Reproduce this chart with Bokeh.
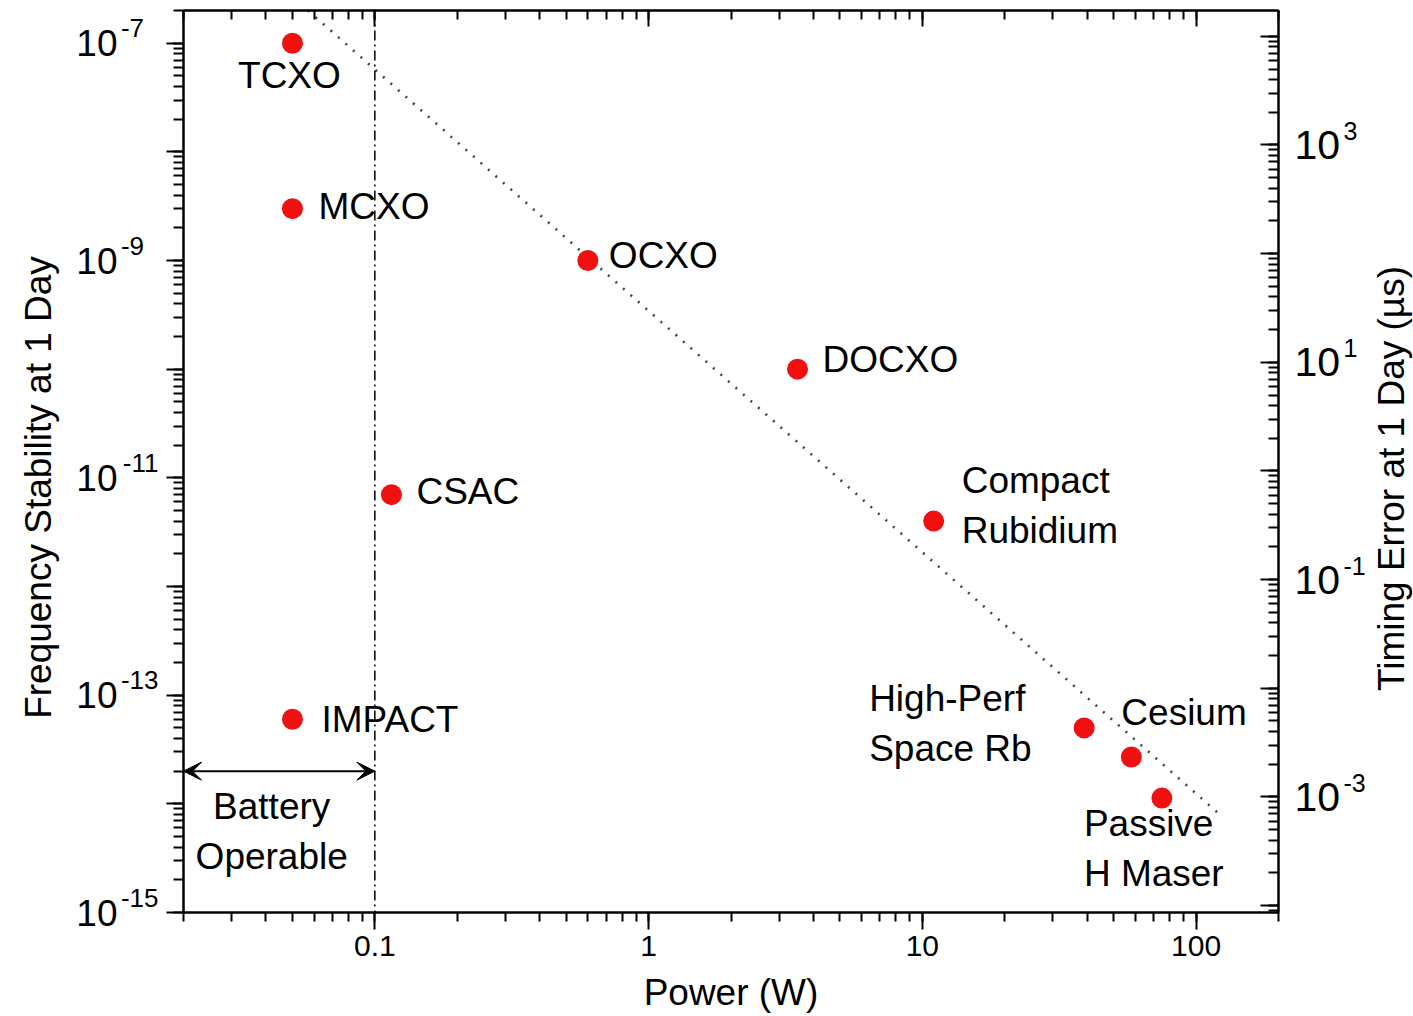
import math
from bokeh.plotting import figure
from bokeh.layouts import row
from bokeh.models import (Range1d, LogScale, LogAxis, FixedTicker, CustomJSTickFormatter,
                          Span, Arrow, VeeHead, ColumnDataSource)
from bokeh.core.properties import value
from bokeh.embed import file_html
from bokeh.resources import INLINE

# ---------------- data ----------------
names = ["TCXO", "MCXO", "OCXO", "DOCXO", "CSAC", "Compact\nRubidium", "IMPACT",
         "High-Perf\nSpace Rb", "Cesium", "Passive\nH Maser"]
power_w = [0.05, 0.05, 0.6, 3.5, 0.115, 11, 0.05, 39, 58, 75]
stability = [1e-7, 3e-9, 1e-9, 1e-10, 7e-12, 4e-12, 6e-14, 5e-14, 2.7e-14, 1.13e-14]

trend_x = [0.057, 124]
trend_y = [2e-7, 7.7e-15]

battery_limit_w = 0.1
battery_arrow_y = 2e-14
battery_note = "Battery\nOperable"
battery_note_x = [0.042]
battery_note_y = [5.6e-15]

x_ticks = [0.1, 1, 10, 100]
x_tick_labels = ["0.1", "1", "10", "100"]
y_ticks = [1e-15, 1e-14, 1e-13, 1e-12, 1e-11, 1e-10, 1e-9, 1e-8, 1e-7]
y_label_ticks = [1e-15, 1e-13, 1e-11, 1e-9, 1e-7]
y_tick_exps = ["-15", "-13", "-11", "-9\u2007", "-7\u2007"]
t_ticks = [1e-4, 1e-3, 1e-2, 1e-1, 1, 10, 100, 1e3, 1e4]
t_label_ticks = [1e-3, 1e-1, 10, 1e3]
t_tick_exps = ["-3", "-1", "1", "3"]
seconds_per_day_us = 86400e6  # 1 day in microseconds

x_title = "Power (W)"
y_title = "Frequency Stability at 1 Day"
t_title = "Timing Error at 1 Day (µs)"

# label placement (screen px offsets from the point)
lab_dx = [-3, 26, 21, 25, 25, 28, 29, -215, -10, -78]
lab_dy = [32, -2, -5, -10, -3, -16, 0, -4, -44, 50]
lab_align = ["center"] + ["left"] * 9

FONT = "Liberation Sans"

x_lo, x_hi = 0.02, 200
y_lo, y_hi = 1e-15, 2e-7

# ---------------- layout constants ----------------
TOTAL_W, TOTAL_H = 1413, 1016
TOP, BOTTOM = 10, 104
FRAME_H = TOTAL_H - TOP - BOTTOM
LEFT_W, RIGHT_W = 70, 45
MAIN_BL, MAIN_BR = 113, 90
MAIN_W = TOTAL_W - LEFT_W - RIGHT_W
PX_PER_DECADE = FRAME_H / (math.log10(y_hi) - math.log10(y_lo))

y_range = Range1d(y_lo, y_hi)
t_range = Range1d(y_lo * seconds_per_day_us, y_hi * seconds_per_day_us)

def y_at_px(py):
    frac = (TOTAL_H - BOTTOM - py) / FRAME_H
    return 10 ** (math.log10(y_lo) + frac * (math.log10(y_hi) - math.log10(y_lo)))

def minors(lo_e, hi_e, lo, hi):
    out = []
    for e in range(lo_e, hi_e):
        for m in range(1, 10):
            v = m * 10.0 ** e
            if lo * 0.999 <= v <= hi * 1.001:
                out.append(v)
    return out

fmt_code = """
for (let i = 0; i < vals.length; i++) {
  if (Math.abs(Math.log10(tick) - Math.log10(vals[i])) < 1e-6) return labs[i];
}
return " ";
"""

def fmt(vals, labs):
    return CustomJSTickFormatter(args=dict(vals=list(vals), labs=list(labs)), code=fmt_code)

# ---------------- main figure ----------------
p = figure(width=MAIN_W, height=TOTAL_H, x_axis_type="log", y_axis_type="log",
           x_range=Range1d(x_lo, x_hi), y_range=y_range,
           min_border_left=MAIN_BL, min_border_right=MAIN_BR, min_border_top=TOP, min_border_bottom=BOTTOM,
           output_backend="svg", toolbar_location=None)
p.grid.visible = False
p.outline_line_color = "black"
p.outline_line_width = 2
p.background_fill_color = "white"
p.border_fill_color = "white"
p.extra_y_ranges = {"t": t_range}
p.extra_y_scales = {"t": LogScale()}

xa = p.xaxis[0]
xa.ticker = FixedTicker(ticks=x_ticks, minor_ticks=minors(-2, 3, x_lo, x_hi))
xa.formatter = fmt(x_ticks, x_tick_labels)
xa.axis_label = x_title

ya = p.yaxis[0]
ya.ticker = FixedTicker(ticks=y_ticks, minor_ticks=minors(-16, -6, y_lo, y_hi))
ya.formatter = CustomJSTickFormatter(code="return ' ';")

ra = LogAxis(y_range_name="t")
ra.ticker = FixedTicker(ticks=t_ticks, minor_ticks=minors(-5, 5, t_range.start, t_range.end))
ra.formatter = CustomJSTickFormatter(code="return ' ';")
p.add_layout(ra, "right")

ta = LogAxis()
ta.ticker = FixedTicker(ticks=x_ticks, minor_ticks=minors(-2, 3, x_lo, x_hi))
ta.formatter = CustomJSTickFormatter(code="return ' ';")
p.add_layout(ta, "above")

# label-only axes: mantissa "10" and raised exponent (shifted a few px up)
L_BASE, L_EXP, L_RAISE = 37, 26, 15
R_BASE, R_EXP, R_RAISE = 41, 25, 14
l_shift = 10 ** (L_RAISE / PX_PER_DECADE)
r_shift = 10 ** (R_RAISE / PX_PER_DECADE)

l_exp_ticks = [v * l_shift for v in y_label_ticks]
le = LogAxis(ticker=FixedTicker(ticks=l_exp_ticks, minor_ticks=[]), formatter=fmt(l_exp_ticks, y_tick_exps))
lb = LogAxis(ticker=FixedTicker(ticks=y_label_ticks, minor_ticks=[]),
             formatter=fmt(y_label_ticks, ["10"] * len(y_label_ticks)))
p.add_layout(le, "left")
p.add_layout(lb, "left")

t_exp_ticks = [v * r_shift for v in t_label_ticks]
rb = LogAxis(y_range_name="t", ticker=FixedTicker(ticks=t_label_ticks, minor_ticks=[]),
             formatter=fmt(t_label_ticks, ["10"] * len(t_label_ticks)))
re_ = LogAxis(y_range_name="t", ticker=FixedTicker(ticks=t_exp_ticks, minor_ticks=[]),
              formatter=fmt(t_exp_ticks, t_tick_exps))
p.add_layout(rb, "right")
p.add_layout(re_, "right")

for ax in [xa, ya, ra, ta]:
    ax.axis_line_color = "black"
    ax.axis_line_width = 2
    ax.major_tick_line_color = "black"
    ax.major_tick_line_width = 2
    ax.minor_tick_line_color = "black"
    ax.minor_tick_line_width = 2

for ax in [xa, ya, ra, ta, le, lb, rb, re_]:
    ax.major_label_text_font = FONT
    ax.major_label_text_color = "black"
    ax.axis_label_text_font = FONT
    ax.axis_label_text_font_style = "normal"
    ax.axis_label_text_font_size = "37px"
    ax.axis_label_text_color = "black"

for ax in [le, lb, rb, re_]:
    ax.axis_line_color = None
    ax.major_tick_line_color = None
    ax.minor_tick_line_color = None
    ax.major_tick_out = 0; ax.major_tick_in = 0
    ax.minor_tick_out = 0; ax.minor_tick_in = 0

for ax in [ya, ra, ta]:
    ax.major_label_text_font_size = "4px"
    ax.major_label_standoff = 0

le.major_label_text_font_size = f"{L_EXP}px"; le.major_label_standoff = 4
lb.major_label_text_font_size = f"{L_BASE}px"; lb.major_label_standoff = 0
rb.major_label_text_font_size = f"{R_BASE}px"; rb.major_label_standoff = 12
re_.major_label_text_font_size = f"{R_EXP}px"; re_.major_label_standoff = 0

xa.major_tick_out = 17; xa.major_tick_in = 0
xa.minor_tick_out = 9; xa.minor_tick_in = 0
xa.major_label_text_font_size = "30px"
xa.major_label_standoff = 6
xa.axis_label_standoff = 13

ya.major_tick_out = 17; ya.major_tick_in = 0
ya.minor_tick_out = 10; ya.minor_tick_in = 0

ra.major_tick_out = 0; ra.major_tick_in = 18
ra.minor_tick_out = 0; ra.minor_tick_in = 10

ta.major_tick_out = 0; ta.major_tick_in = 16
ta.minor_tick_out = 0; ta.minor_tick_in = 9

# trend line
p.line(trend_x, trend_y, line_color="#444444", line_width=2.6, line_dash="2 8")

# battery limit
p.add_layout(Span(location=battery_limit_w, dimension="height", line_color="black",
                  line_width=1.5, line_dash="10 4 2 4"))
p.add_layout(Arrow(x_start=x_lo, x_end=battery_limit_w, y_start=battery_arrow_y, y_end=battery_arrow_y,
                   line_color="black", line_width=2,
                   start=VeeHead(size=18, line_width=1, line_color="black", fill_color="black"),
                   end=VeeHead(size=18, line_width=1, line_color="black", fill_color="black")))

# points
src = ColumnDataSource(dict(x=power_w, y=stability, name=names, dx=lab_dx, dy=lab_dy, al=lab_align))
p.scatter("x", "y", source=src, size=21, fill_color="#f01010", line_color=None)

p.text("x", "y", text="name", source=src, x_offset="dx", y_offset="dy", text_align="al",
       text_baseline="middle", text_font=value(FONT), text_font_size="37px",
       text_color="black", text_line_height=1.22)

p.text(battery_note_x, battery_note_y, text=[battery_note], text_align="center",
       text_baseline="middle", text_font=value(FONT), text_font_size="37px",
       text_color="black", text_line_height=1.22)

# ---------------- side panels for the two vertical axis titles ----------------
def side_fig(width, yr):
    f = figure(width=width, height=TOTAL_H, x_range=Range1d(0, width), y_range=yr,
               y_axis_type="log", x_axis_location=None, y_axis_location=None,
               min_border_left=0, min_border_right=0, min_border_top=TOP, min_border_bottom=BOTTOM,
               output_backend="svg", toolbar_location=None)
    f.grid.visible = False
    f.outline_line_color = None
    f.background_fill_color = "white"
    f.border_fill_color = "white"
    return f

pl = side_fig(LEFT_W, y_range)
pl.text([38], [y_at_px(487)], text=[y_title], angle=math.pi / 2,
        text_align="center", text_baseline="middle", text_font=value(FONT),
        text_font_size="37px", text_color="black")

pr = side_fig(RIGHT_W, t_range)
pr.text([RIGHT_W / 2], [y_at_px(478) * seconds_per_day_us], text=[t_title], angle=math.pi / 2,
        text_align="center", text_baseline="middle", text_font=value(FONT),
        text_font_size="37px", text_color="black")

layout = row(pl, p, pr, spacing=0)
open("out.html", "w").write(file_html(layout, INLINE))
